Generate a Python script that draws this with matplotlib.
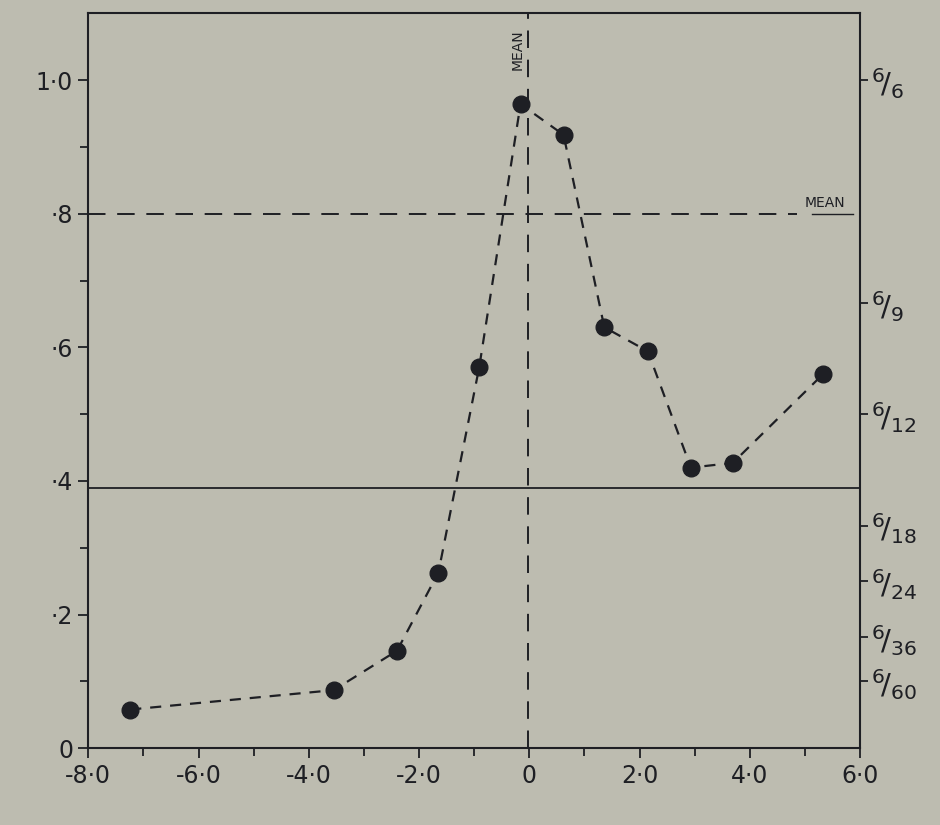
""" plot.py """

import numpy as np
import matplotlib.pyplot as plt

x_vals = [-7.24, -3.55, -2.4, -1.65, -0.91, -0.16, 0.62, 1.36, 2.15, 2.93, 3.69, 5.33]
y_vals = [0.058, 0.087, 0.146, 0.263, 0.57, 0.964, 0.918, 0.63, 0.594, 0.42, 0.427, 0.56]

x_ticks = [-8, -6, -4, -2, 0, 2, 4, 6]
x_labels = ["-8·0", "-6·0", "-4·0", "-2·0", "0", "2·0", "4·0", "6·0"]
y_ticks = [0, 0.2, 0.4, 0.6, 0.8, 1.0]
y_labels = ["0", "·2", "·4", "·6", "·8", "1·0"]

acuity_denoms = [6, 9, 12, 18, 24, 36, 60]
acuity_vals = [6 / d for d in acuity_denoms]
acuity_labels = [r"$^{6}\!/_{%d}$" % d for d in acuity_denoms]

mean_x = -0.03
mean_y = 0.8
baseline_y = 0.39

paper = "#bdbcb0"
ink = "#1e1f24"

plt.rcParams['font.family'] = ['DejaVu Sans']
plt.rcParams['mathtext.fontset'] = 'dejavusans'

fig = plt.figure(figsize=(9.4, 8.25), dpi=100, facecolor=paper)
ax = fig.add_axes([0.094, 0.093, 0.821, 0.891], facecolor=paper)

ax.plot(x_vals, y_vals, linestyle=(0, (5, 4)), color=ink, lw=1.6,
        marker='o', markersize=12, markerfacecolor=ink, markeredgecolor=ink)

# mean lines and reference line
ax.plot([-8, 4.85], [mean_y, mean_y], linestyle=(0, (9, 6)), color=ink, lw=1.4)
ax.text(5.0, mean_y + 0.006, "MEAN", fontsize=10, color=ink, va='bottom', ha='left')
ax.plot([5.12, 5.88], [mean_y, mean_y], color=ink, lw=1.0)
ax.plot([mean_x, mean_x], [0, 1.1], linestyle=(0, (9, 6)), color=ink, lw=1.4)
ax.text(mean_x - 0.06, 1.045, "MEAN", rotation=90, fontsize=10, color=ink,
        ha='right', va='center')
ax.axhline(baseline_y, color=ink, lw=1.3)

ax.set_xlim(-8, 6)
ax.set_ylim(0, 1.1)

ax.set_xticks(x_ticks)
ax.set_xticklabels(x_labels, fontsize=17, color=ink)
ax.set_xticks(np.arange(-7, 6, 2), minor=True)
ax.set_yticks(y_ticks)
ax.set_yticklabels(y_labels, fontsize=17, color=ink)
ax.set_yticks(np.arange(0.1, 1.0, 0.2), minor=True)
ax.tick_params(axis='both', which='both', direction='out', color=ink, width=1.3)
ax.tick_params(axis='both', which='major', length=7, pad=4)
ax.tick_params(axis='both', which='minor', length=6)

for side in ax.spines.values():
    side.set_color(ink)
    side.set_linewidth(1.5)

# visual acuity scale on the right
ax2 = ax.twinx()
ax2.set_ylim(0, 1.1)
ax2.set_yticks(acuity_vals)
ax2.set_yticklabels(acuity_labels, fontsize=21, color=ink)
ax2.tick_params(axis='y', direction='out', length=6, width=1.3, color=ink, pad=2)
for side in ax2.spines.values():
    side.set_visible(False)

fig.savefig("out.png", dpi=100, facecolor=paper)
